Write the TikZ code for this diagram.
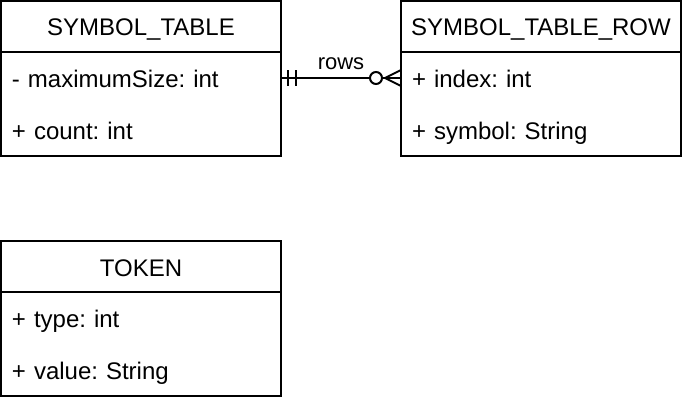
\documentclass[tikz,border=0pt]{standalone}
\usepackage{fontspec}
\setmainfont{Liberation Sans}
\usepackage{tikz}
\usetikzlibrary{positioning,fit,calc}
\frenchspacing

\begin{document}
\begin{tikzpicture}[x=1pt, y=-1pt, line width=2pt, font=\fontsize{24}{28}\selectfont]
\tikzstyle{head}=[draw, minimum width=280pt, minimum height=51pt, inner sep=0pt, outer sep=0pt, text height=19pt, text depth=0pt]
\tikzstyle{field}=[minimum width=280pt, minimum height=52pt, text width=258pt, inner xsep=11pt, inner ysep=0pt, outer sep=0pt, align=left, text height=18pt, text depth=0pt]
\tikzstyle{body}=[draw, inner sep=0pt, outer sep=0pt]
\tikzstyle{lbl}=[font=\fontsize{22}{26}\selectfont, anchor=base, yshift=8pt, inner sep=0pt]
\useasboundingbox (0,0) rectangle (682,404);
% symbol table
\node[head] (tab) at (141,26.5) {SYMBOL\_TABLE};
\node[field, below=0pt of tab] (tabsize) {- maximumSize: int};
\node[field, below=0pt of tabsize] (tabcount) {+ count: int};
\node[body, fit=(tabsize)(tabcount)] (tabbody) {};
% symbol table row
\node[head] (row) at (541,26.5) {SYMBOL\_TABLE\_ROW};
\node[field, below=0pt of row] (rowidx) {+ index: int};
\node[field, below=0pt of rowidx] (rowsym) {+ symbol: String};
\node[body, fit=(rowidx)(rowsym)] (rowbody) {};
% token
\node[head] (tok) at (141,266.5) {TOKEN};
\node[field, below=0pt of tok] (toktype) {+ type: int};
\node[field, below=0pt of toktype] (tokval) {+ value: String};
\node[body, fit=(toktype)(tokval)] (tokbody) {};
% relation: exactly one -- zero or many
\draw (tabsize.east) -- node[lbl] {rows} (rowidx.west);
\foreach \d in {7,15}{\draw ($(tabsize.east)+(\d,-8)$) -- ($(tabsize.east)+(\d,8)$);}
\draw ($(rowidx.west)+(-16,0)$) -- ($(rowidx.west)+(0,-8)$);
\draw ($(rowidx.west)+(-16,0)$) -- ($(rowidx.west)+(0,8)$);
\draw[fill=white] ($(rowidx.west)+(-25,0)$) circle[radius=6pt];
\end{tikzpicture}
\end{document}
